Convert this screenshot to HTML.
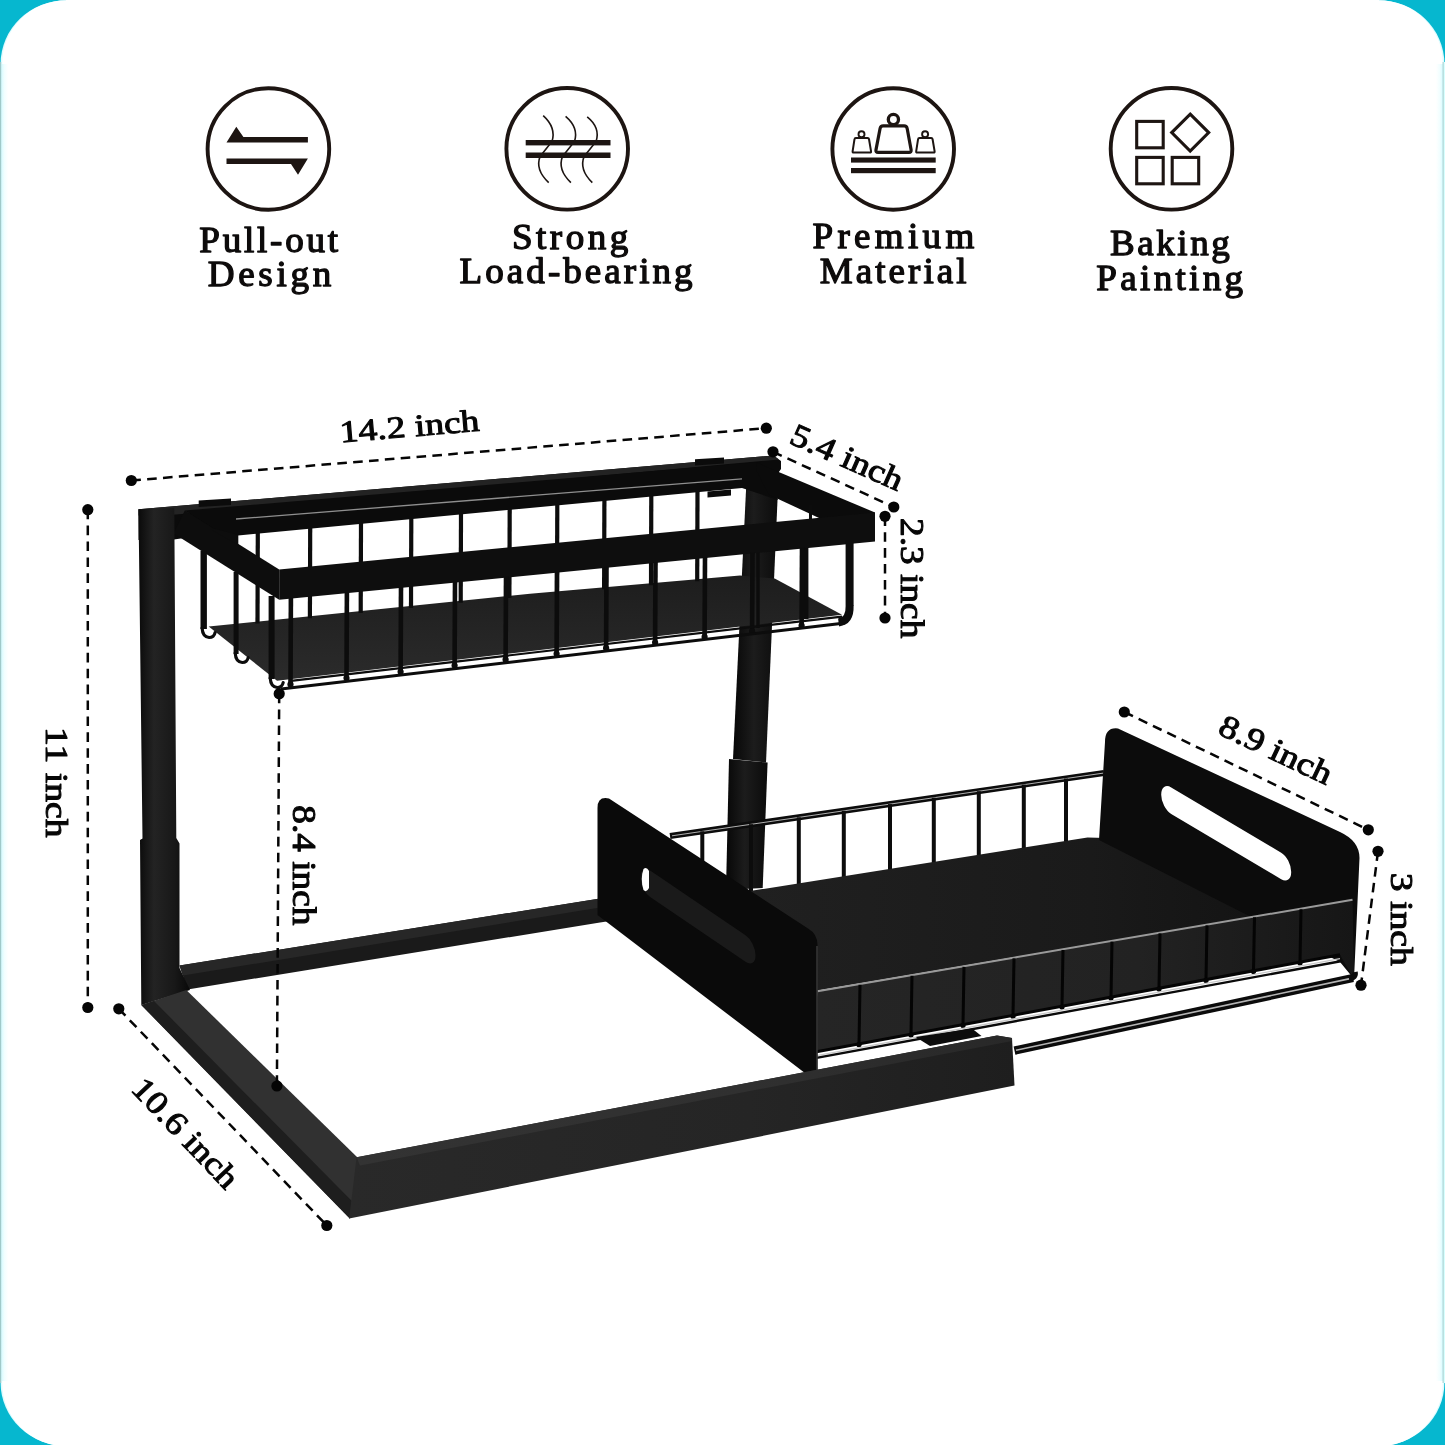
<!DOCTYPE html>
<html><head><meta charset="utf-8"><title>Under sink organizer dimensions</title>
<style>
html,body{margin:0;padding:0;background:#06b7cf;}
body{width:1445px;height:1445px;overflow:hidden;font-family:"Liberation Serif",serif;}
svg{display:block;}
</style></head><body>
<svg width="1445" height="1445" viewBox="0 0 1445 1445" style="will-change:transform">
<rect x="0" y="0" width="1445" height="1445" fill="#06b7cf"/>
<rect x="0.6" y="0.2" width="1443.8" height="1446" rx="66" ry="63.5" fill="#dffcff"/>
<rect x="2.2" y="0.2" width="1440.6" height="1446" rx="64.5" ry="63" fill="#ffffff"/>
<rect x="66" y="0" width="1313" height="3" fill="#ffffff"/>
<defs><linearGradient id="fadeL" x1="0" x2="1" y1="0" y2="0"><stop offset="0" stop-color="#d4fbff"/><stop offset="0.45" stop-color="#f1feff"/><stop offset="1" stop-color="#ffffff"/></linearGradient><linearGradient id="fadeR" x1="1" x2="0" y1="0" y2="0"><stop offset="0" stop-color="#d4fbff"/><stop offset="0.45" stop-color="#f1feff"/><stop offset="1" stop-color="#ffffff"/></linearGradient></defs>
<rect x="1.2" y="64" width="7" height="1317" fill="url(#fadeL)"/>
<rect x="1436" y="64" width="7" height="1317" fill="url(#fadeR)"/>
<rect x="0" y="62" width="1.2" height="1321" fill="#9fc9c9"/>
<rect x="1442.6" y="62" width="1.2" height="1321" fill="#a9d0d0"/>
<rect x="1443.8" y="62" width="1.2" height="1321" fill="#d8ffff"/>
<circle cx="268.4" cy="149.0" r="60.8" fill="none" stroke="#1d1512" stroke-width="3.9"/>
<polygon points="226.5,142.6 236.3,126.7 243.4,137.0 307.9,137.0 307.9,142.6" fill="#1d1512" />
<polygon points="226.5,158.6 307.9,158.6 298.0,174.7 291.0,164.1 226.5,164.1" fill="#1d1512" />
<circle cx="567.2" cy="148.8" r="60.8" fill="none" stroke="#1d1512" stroke-width="3.9"/>
<rect x="525.7" y="140" width="84.8" height="5.4" fill="#1d1512"/>
<rect x="525.7" y="152.5" width="84.8" height="5.5" fill="#1d1512"/>
<path d="M543.2,115.6 Q556.4,127.6 552.0,141.4 L540.1,156.4 Q534.9,169.7 548.7,182.6" fill="none" stroke="#1d1512" stroke-width="1.6"/>
<path d="M565.6,116.3 Q578.9,127.6 574.5,141.4 L562.5,156.4 Q557.3,169.7 570.9,182.6" fill="none" stroke="#1d1512" stroke-width="1.6"/>
<path d="M587.2,116.9 Q600.5,127.6 596.1,141.4 L584.1,156.4 Q578.9,169.7 592.3,182.6" fill="none" stroke="#1d1512" stroke-width="1.6"/>
<circle cx="893.2" cy="149.0" r="60.8" fill="none" stroke="#1d1512" stroke-width="3.9"/>
<rect x="851" y="157.5" width="84.7" height="5.1" fill="#1d1512"/>
<rect x="851" y="168" width="84.7" height="5.2" fill="#1d1512"/>
<circle cx="893.4" cy="119.5" r="5.1" fill="none" stroke="#1d1512" stroke-width="3.3"/>
<path d="M880.07,128.48 Q880.56,125.92 883.16,125.92 L904.09,125.92 Q906.69,125.92 907.17,128.48 L911.10,149.83 Q911.57,152.39 908.97,152.39 L878.07,152.39 Q875.47,152.39 875.96,149.84 Z" fill="#fff" stroke="#1d1512" stroke-width="3.2" stroke-linejoin="round"/>
<circle cx="861.5" cy="134.2" r="3.0" fill="none" stroke="#1d1512" stroke-width="1.9"/>
<path d="M854.46,139.29 Q854.65,138.11 855.85,138.11 L867.62,138.11 Q868.82,138.11 869.02,139.29 L871.06,151.43 Q871.26,152.61 870.06,152.61 L853.63,152.61 Q852.43,152.61 852.61,151.43 Z" fill="#fff" stroke="#1d1512" stroke-width="2.0" stroke-linejoin="round"/>
<circle cx="925.1" cy="134.2" r="3.0" fill="none" stroke="#1d1512" stroke-width="1.9"/>
<path d="M918.03,139.29 Q918.21,138.11 919.41,138.11 L931.19,138.11 Q932.39,138.11 932.59,139.29 L934.62,151.43 Q934.82,152.61 933.62,152.61 L917.20,152.61 Q916.00,152.61 916.18,151.43 Z" fill="#fff" stroke="#1d1512" stroke-width="2.0" stroke-linejoin="round"/>
<circle cx="1171.5" cy="148.8" r="60.8" fill="none" stroke="#1d1512" stroke-width="3.9"/>
<rect x="1136.7" y="121.4" width="26.5" height="26.4" fill="none" stroke="#1d1512" stroke-width="3.1"/>
<rect x="1136.7" y="157.4" width="26.5" height="26.4" fill="none" stroke="#1d1512" stroke-width="3.1"/>
<rect x="1172.2" y="157.4" width="26.5" height="26.4" fill="none" stroke="#1d1512" stroke-width="3.1"/>
<polygon points="1190.2,114.1 1208.7,132.6 1190.2,151.1 1171.7,132.6" fill="none" stroke="#1d1512" stroke-width="3.1"/>
<text transform="translate(268.7,252.1) scale(1.060,1)" x="0" y="0" text-anchor="middle" textLength="131.1" lengthAdjust="spacing" font-family="'Liberation Serif', serif" font-weight="normal" font-size="35" fill="#0d0b0b" stroke="#0d0b0b" stroke-width="1.25" stroke-linejoin="round">Pull-out</text>
<text transform="translate(269.5,286.0) scale(1.060,1)" x="0" y="0" text-anchor="middle" textLength="116.7" lengthAdjust="spacing" font-family="'Liberation Serif', serif" font-weight="normal" font-size="35" fill="#0d0b0b" stroke="#0d0b0b" stroke-width="1.25" stroke-linejoin="round">Design</text>
<text transform="translate(570.1,249.0) scale(1.060,1)" x="0" y="0" text-anchor="middle" textLength="109.8" lengthAdjust="spacing" font-family="'Liberation Serif', serif" font-weight="normal" font-size="35" fill="#0d0b0b" stroke="#0d0b0b" stroke-width="1.25" stroke-linejoin="round">Strong</text>
<text transform="translate(576.1,282.8) scale(1.060,1)" x="0" y="0" text-anchor="middle" textLength="219.8" lengthAdjust="spacing" font-family="'Liberation Serif', serif" font-weight="normal" font-size="35" fill="#0d0b0b" stroke="#0d0b0b" stroke-width="1.25" stroke-linejoin="round">Load-bearing</text>
<text transform="translate(893.4,248.2) scale(1.060,1)" x="0" y="0" text-anchor="middle" textLength="152.6" lengthAdjust="spacing" font-family="'Liberation Serif', serif" font-weight="normal" font-size="35" fill="#0d0b0b" stroke="#0d0b0b" stroke-width="1.25" stroke-linejoin="round">Premium</text>
<text transform="translate(893.2,282.8) scale(1.060,1)" x="0" y="0" text-anchor="middle" textLength="138.5" lengthAdjust="spacing" font-family="'Liberation Serif', serif" font-weight="normal" font-size="35" fill="#0d0b0b" stroke="#0d0b0b" stroke-width="1.25" stroke-linejoin="round">Material</text>
<text transform="translate(1169.9,255.4) scale(1.060,1)" x="0" y="0" text-anchor="middle" textLength="113.2" lengthAdjust="spacing" font-family="'Liberation Serif', serif" font-weight="normal" font-size="35" fill="#0d0b0b" stroke="#0d0b0b" stroke-width="1.25" stroke-linejoin="round">Baking</text>
<text transform="translate(1169.7,289.6) scale(1.060,1)" x="0" y="0" text-anchor="middle" textLength="138.4" lengthAdjust="spacing" font-family="'Liberation Serif', serif" font-weight="normal" font-size="35" fill="#0d0b0b" stroke="#0d0b0b" stroke-width="1.25" stroke-linejoin="round">Painting</text>
<defs>
<linearGradient id="postg" x1="0" x2="1" y1="0" y2="0"><stop offset="0" stop-color="#0a0a0a"/><stop offset="0.3" stop-color="#232323"/><stop offset="0.7" stop-color="#181818"/><stop offset="1" stop-color="#080808"/></linearGradient>
<linearGradient id="post2" x1="0" x2="1" y1="0" y2="0"><stop offset="0" stop-color="#070707"/><stop offset="0.45" stop-color="#1c1c1c"/><stop offset="1" stop-color="#0b0b0b"/></linearGradient>
<linearGradient id="dfloor" x1="0" x2="1" y1="0" y2="0"><stop offset="0" stop-color="#212121"/><stop offset="0.6" stop-color="#1a1a1a"/><stop offset="1" stop-color="#101010"/></linearGradient>
<linearGradient id="bfloor" x1="0" x2="0" y1="0" y2="1"><stop offset="0" stop-color="#1d1d1d"/><stop offset="1" stop-color="#2b2b2b"/></linearGradient>
<linearGradient id="rface" gradientUnits="userSpaceOnUse" x1="815" x2="1355" y1="0" y2="0"><stop offset="0" stop-color="#252525"/><stop offset="0.6" stop-color="#222222"/><stop offset="1" stop-color="#161616"/></linearGradient>
<linearGradient id="fbar" gradientUnits="userSpaceOnUse" x1="350" x2="1015" y1="0" y2="0"><stop offset="0" stop-color="#292929"/><stop offset="0.6" stop-color="#252525"/><stop offset="1" stop-color="#1e1e1e"/></linearGradient>
<linearGradient id="fbart" gradientUnits="userSpaceOnUse" x1="350" x2="1015" y1="0" y2="0"><stop offset="0" stop-color="#333333"/><stop offset="0.6" stop-color="#303030"/><stop offset="1" stop-color="#282828"/></linearGradient>
</defs>
<polygon points="179.5,965.5 600.0,898.5 740.0,877.0 740.0,901.0 600.0,922.5 187.5,989.5" fill="#1a1a1a" />
<polygon points="179.5,965.5 600.0,898.5 740.0,877.0 740.0,886.0 600.0,907.5 183.0,975.5" fill="#272727" />
<polygon points="747.0,470.0 779.0,466.0 766.0,762.5 733.0,759.0" fill="url(#post2)" />
<polygon points="729.0,759.0 767.6,762.5 762.7,888.0 726.0,890.0" fill="url(#post2)" />
<polygon points="138.5,509.2 773.5,455.5 781.0,461.0 781.0,469.0 776.0,476.0 300.0,521.0 174.0,539.5 138.5,540.0" fill="#0b0b0b" />
<polygon points="138.5,509.2 773.5,455.5 779.0,459.5 176.0,514.5 138.5,515.5" fill="#232323" />
<polygon points="198.7,500.5 231.0,498.5 231.0,505.0 198.7,507.0" fill="#0b0b0b" />
<polygon points="695.0,459.3 724.0,457.5 724.0,463.5 695.0,465.5" fill="#0b0b0b" />
<polygon points="184.8,510.5 760.0,462.0 778.0,500.0 742.0,488.0 238.0,535.5 226.0,536.6" fill="#0b0b0b" />
<line x1="236.0" y1="519.0" x2="742.0" y2="478.8" stroke="#8f8f8f" stroke-width="1.30" />
<polygon points="707.5,491.5 731.0,489.5 731.0,495.5 707.5,497.5" fill="#0b0b0b" />
<polygon points="208.7,626.5 530.0,593.8 740.0,575.5 774.7,578.6 842.0,614.7 277.0,680.7" fill="url(#bfloor)" />
<line x1="257.8" y1="532.6" x2="257.5" y2="623.5" stroke="#0c0c0c" stroke-width="4.20" />
<line x1="310.2" y1="527.7" x2="309.9" y2="618.2" stroke="#0c0c0c" stroke-width="4.20" />
<line x1="361.0" y1="522.9" x2="360.7" y2="613.0" stroke="#0c0c0c" stroke-width="4.20" />
<line x1="411.3" y1="518.2" x2="411.0" y2="607.9" stroke="#0c0c0c" stroke-width="4.20" />
<line x1="461.0" y1="513.5" x2="460.7" y2="602.8" stroke="#0c0c0c" stroke-width="4.20" />
<line x1="509.7" y1="508.9" x2="509.4" y2="597.9" stroke="#0c0c0c" stroke-width="4.20" />
<line x1="557.3" y1="504.4" x2="557.0" y2="593.4" stroke="#0c0c0c" stroke-width="4.20" />
<line x1="604.4" y1="500.0" x2="604.1" y2="589.3" stroke="#0c0c0c" stroke-width="4.20" />
<line x1="651.3" y1="495.5" x2="651.0" y2="585.2" stroke="#0c0c0c" stroke-width="4.20" />
<line x1="697.5" y1="491.2" x2="697.2" y2="581.2" stroke="#0c0c0c" stroke-width="4.20" />
<polygon points="756.3,462.5 875.0,512.5 875.0,516.0 819.6,518.2 769.0,494.8 756.0,470.0" fill="#0b0b0b" />
<line x1="810.5" y1="505.0" x2="810.5" y2="520.0" stroke="#0c0c0c" stroke-width="3.00" />
<line x1="806.2" y1="546.0" x2="806.2" y2="619.0" stroke="#0c0c0c" stroke-width="4.40" />
<line x1="758.0" y1="552.0" x2="758.0" y2="628.0" stroke="#0c0c0c" stroke-width="3.40" />
<polygon points="184.8,510.5 279.2,569.4 279.2,599.8 173.6,533.5" fill="#0d0d0d" />
<polygon points="212.0,528.0 238.3,535.0 238.3,545.2 212.0,530.0" fill="#0d0d0d" />
<line x1="203.7" y1="551.0" x2="203.7" y2="629.0" stroke="#0c0c0c" stroke-width="6.40" />
<path d="M202.1,628.0 q0.5,9 7,9.5 q5,0 6,-5" fill="none" stroke="#0c0c0c" stroke-width="3.2" stroke-linecap="round"/>
<line x1="236.1" y1="572.0" x2="236.1" y2="654.0" stroke="#0c0c0c" stroke-width="5.00" />
<path d="M235.2,653.0 q0.5,9 7,9.5 q5,0 6,-5" fill="none" stroke="#0c0c0c" stroke-width="3.2" stroke-linecap="round"/>
<line x1="271.6" y1="596.0" x2="271.6" y2="679.0" stroke="#0c0c0c" stroke-width="6.00" />
<path d="M270.2,678.0 q0.5,9 7,9.5 q5,0 6,-5" fill="none" stroke="#0c0c0c" stroke-width="3.2" stroke-linecap="round"/>
<polygon points="279.2,569.4 875.0,512.5 875.0,541.5 279.2,599.8" fill="#0e0e0e" />
<line x1="290.9" y1="597.7" x2="290.5" y2="684.9" stroke="#0c0c0c" stroke-width="4.60" />
<circle cx="290.5" cy="684.4" r="3.1" fill="#0c0c0c"/>
<line x1="346.9" y1="592.2" x2="346.5" y2="678.5" stroke="#0c0c0c" stroke-width="4.60" />
<circle cx="346.5" cy="678.0" r="3.1" fill="#0c0c0c"/>
<line x1="401.0" y1="586.9" x2="400.6" y2="672.3" stroke="#0c0c0c" stroke-width="4.60" />
<circle cx="400.6" cy="671.8" r="3.1" fill="#0c0c0c"/>
<line x1="455.0" y1="581.6" x2="454.6" y2="666.1" stroke="#0c0c0c" stroke-width="4.60" />
<circle cx="454.6" cy="665.6" r="3.1" fill="#0c0c0c"/>
<line x1="506.0" y1="576.6" x2="505.6" y2="660.2" stroke="#0c0c0c" stroke-width="4.60" />
<circle cx="505.6" cy="659.7" r="3.1" fill="#0c0c0c"/>
<line x1="557.0" y1="571.6" x2="556.6" y2="654.3" stroke="#0c0c0c" stroke-width="4.60" />
<circle cx="556.6" cy="653.8" r="3.1" fill="#0c0c0c"/>
<line x1="606.5" y1="566.8" x2="606.1" y2="648.7" stroke="#0c0c0c" stroke-width="4.60" />
<circle cx="606.1" cy="648.2" r="3.1" fill="#0c0c0c"/>
<line x1="655.5" y1="562.0" x2="655.1" y2="643.0" stroke="#0c0c0c" stroke-width="4.60" />
<circle cx="655.1" cy="642.5" r="3.1" fill="#0c0c0c"/>
<line x1="705.0" y1="557.1" x2="704.6" y2="637.4" stroke="#0c0c0c" stroke-width="4.60" />
<circle cx="704.6" cy="636.9" r="3.1" fill="#0c0c0c"/>
<line x1="752.5" y1="552.5" x2="752.1" y2="631.9" stroke="#0c0c0c" stroke-width="4.60" />
<circle cx="752.1" cy="631.4" r="3.1" fill="#0c0c0c"/>
<line x1="802.0" y1="547.6" x2="801.6" y2="626.2" stroke="#0c0c0c" stroke-width="4.60" />
<circle cx="801.6" cy="625.7" r="3.1" fill="#0c0c0c"/>
<line x1="281.0" y1="689.0" x2="845.0" y2="623.0" stroke="#0c0c0c" stroke-width="3.00" />
<line x1="291.0" y1="680.8" x2="842.0" y2="616.6" stroke="#0c0c0c" stroke-width="2.20" />
<path d="M849.6,540 L849.6,606 q0.5,15 -11,16.5" fill="none" stroke="#0c0c0c" stroke-width="8"/>
<polygon points="138.5,509.2 174.3,508.0 176.3,838.0 179.5,843.5 179.5,968.0 190.0,990.0 141.3,1005.0 140.0,840.0 142.5,838.5" fill="url(#postg)" />
<polygon points="141.3,1005.0 186.3,990.0 357.5,1157.5 350.0,1218.8" fill="#313131" />
<polygon points="141.3,1005.0 154.0,1001.0 351.8,1201.0 350.0,1218.8" fill="#1e1e1e" />
<line x1="670.0" y1="836.0" x2="1104.0" y2="773.0" stroke="#0c0c0c" stroke-width="6.00" />
<line x1="672.0" y1="835.8" x2="1104.0" y2="773.0" stroke="#b0b0b0" stroke-width="1.00" />
<line x1="702.3" y1="831.3" x2="702.3" y2="900.0" stroke="#0c0c0c" stroke-width="4.00" />
<line x1="751.0" y1="824.2" x2="751.0" y2="892.2" stroke="#0c0c0c" stroke-width="4.00" />
<line x1="798.8" y1="817.3" x2="798.8" y2="884.6" stroke="#0c0c0c" stroke-width="4.00" />
<line x1="843.8" y1="810.8" x2="843.8" y2="877.4" stroke="#0c0c0c" stroke-width="4.00" />
<line x1="890.0" y1="804.1" x2="890.0" y2="870.0" stroke="#0c0c0c" stroke-width="4.00" />
<line x1="933.8" y1="797.7" x2="933.8" y2="863.0" stroke="#0c0c0c" stroke-width="4.00" />
<line x1="978.8" y1="791.2" x2="978.8" y2="855.9" stroke="#0c0c0c" stroke-width="4.00" />
<line x1="1023.8" y1="784.6" x2="1023.8" y2="848.7" stroke="#0c0c0c" stroke-width="4.00" />
<line x1="1066.0" y1="778.5" x2="1066.0" y2="841.9" stroke="#0c0c0c" stroke-width="4.00" />
<polygon points="700.0,899.0 1087.5,837.5 1106.0,838.0 1352.0,900.0 817.5,990.5 780.0,960.0" fill="url(#dfloor)" />
<path d="M1105,742 Q1105,727 1118,728.5 L1340,832 Q1359.5,841 1359.5,858 L1354,979 L1340,962 L1099,840 Z" fill="#0c0c0c"/>
<g transform="translate(1161.2,781.5) skewY(30.7)"><rect x="0" y="0" width="130" height="26.5" rx="10" ry="13.2" fill="#ffffff"/></g>
<polygon points="817.5,991.0 1352.5,899.5 1354.0,979.0 1340.0,954.8 812.5,1052.5" fill="url(#rface)" />
<line x1="817.5" y1="991.3" x2="1352.5" y2="899.8" stroke="#9a9a9a" stroke-width="2.00" />
<line x1="860.0" y1="984.7" x2="859.0" y2="1043.7" stroke="#040404" stroke-width="3.00" />
<circle cx="859.0" cy="1044.7" r="2.6" fill="#040404"/>
<line x1="912.0" y1="975.8" x2="911.0" y2="1034.1" stroke="#040404" stroke-width="3.00" />
<circle cx="911.0" cy="1035.1" r="2.6" fill="#040404"/>
<line x1="964.0" y1="966.9" x2="963.0" y2="1024.4" stroke="#040404" stroke-width="3.00" />
<circle cx="963.0" cy="1025.4" r="2.6" fill="#040404"/>
<line x1="1014.0" y1="958.4" x2="1013.0" y2="1015.2" stroke="#040404" stroke-width="3.00" />
<circle cx="1013.0" cy="1016.2" r="2.6" fill="#040404"/>
<line x1="1063.0" y1="950.0" x2="1062.0" y2="1006.1" stroke="#040404" stroke-width="3.00" />
<circle cx="1062.0" cy="1007.1" r="2.6" fill="#040404"/>
<line x1="1112.0" y1="941.6" x2="1111.0" y2="997.0" stroke="#040404" stroke-width="3.00" />
<circle cx="1111.0" cy="998.0" r="2.6" fill="#040404"/>
<line x1="1160.0" y1="933.4" x2="1159.0" y2="988.1" stroke="#040404" stroke-width="3.00" />
<circle cx="1159.0" cy="989.1" r="2.6" fill="#040404"/>
<line x1="1207.0" y1="925.4" x2="1206.0" y2="979.4" stroke="#040404" stroke-width="3.00" />
<circle cx="1206.0" cy="980.4" r="2.6" fill="#040404"/>
<line x1="1254.5" y1="917.3" x2="1253.5" y2="970.6" stroke="#040404" stroke-width="3.00" />
<circle cx="1253.5" cy="971.6" r="2.6" fill="#040404"/>
<line x1="1301.0" y1="909.3" x2="1300.0" y2="962.0" stroke="#040404" stroke-width="3.00" />
<circle cx="1300.0" cy="963.0" r="2.6" fill="#040404"/>
<line x1="812.5" y1="1052.5" x2="1340.0" y2="954.8" stroke="#050505" stroke-width="3.00" />
<line x1="812.5" y1="1056.3" x2="1340.0" y2="958.6" stroke="#c8c8c8" stroke-width="1.30" />
<line x1="812.5" y1="1058.6" x2="1342.0" y2="961.0" stroke="#0a0a0a" stroke-width="2.40" />
<path d="M597.5,808 Q597.5,796 609,798.5 L808,928.5 Q817.5,934 817.5,945 L817.5,1072 L807.5,1075 L597.5,915 Z" fill="#0a0a0a"/>
<line x1="817.0" y1="946.0" x2="817.0" y2="1070.0" stroke="#3a3a3a" stroke-width="1.40" />
<g transform="translate(640.5,864) skewY(34.2)"><rect x="0" y="0" width="115" height="26.5" rx="10" ry="13" fill="#1a1a1a"/></g>
<path d="M643.5,869 q-3.5,10 0,21 q3,3 5.5,-2 l0,-17 q-2.5,-5 -5.5,-2 z" fill="#ffffff"/>
<polygon points="915.6,1037.0 972.0,1028.5 981.5,1036.0 930.0,1046.0" fill="#0c0c0c" />
<polygon points="356.5,1157.2 997.0,1035.5 1012.0,1038.0 1014.5,1085.6 349.2,1218.6" fill="url(#fbar)" />
<polygon points="356.8,1157.3 997.0,1035.5 1012.0,1038.0 1012.0,1041.0 360.0,1165.5" fill="url(#fbart)" />
<line x1="1014.5" y1="1050.6" x2="1353.0" y2="978.0" stroke="#0b0b0b" stroke-width="8.40" />
<line x1="1016.0" y1="1050.2" x2="1350.0" y2="978.6" stroke="#b4b4b4" stroke-width="1.60" />
<path d="M1349,979 q7,-1 6,-7" fill="none" stroke="#0b0b0b" stroke-width="5.5"/>
<line x1="131.3" y1="480.5" x2="766.3" y2="428.2" stroke="#050505" stroke-width="2.50" stroke-dasharray="9.6 6.3"/>
<circle cx="131.3" cy="480.5" r="5.6" fill="#050505"/>
<circle cx="766.3" cy="428.2" r="5.6" fill="#050505"/>
<line x1="773.0" y1="451.8" x2="893.8" y2="507.0" stroke="#050505" stroke-width="2.50" stroke-dasharray="9.6 6.3"/>
<circle cx="773.0" cy="451.8" r="5.6" fill="#050505"/>
<circle cx="893.8" cy="507.0" r="5.6" fill="#050505"/>
<line x1="885.0" y1="516.3" x2="885.0" y2="618.0" stroke="#050505" stroke-width="2.50" stroke-dasharray="9.6 6.3"/>
<circle cx="885.0" cy="516.3" r="5.6" fill="#050505"/>
<circle cx="885.0" cy="618.0" r="5.6" fill="#050505"/>
<line x1="87.8" y1="509.7" x2="87.8" y2="1007.5" stroke="#050505" stroke-width="2.50" stroke-dasharray="9.6 6.3"/>
<circle cx="87.8" cy="509.7" r="5.6" fill="#050505"/>
<circle cx="87.8" cy="1007.5" r="5.6" fill="#050505"/>
<line x1="279.2" y1="693.7" x2="276.9" y2="1086.0" stroke="#050505" stroke-width="2.50" stroke-dasharray="9.6 6.3"/>
<circle cx="279.2" cy="693.7" r="5.6" fill="#050505"/>
<circle cx="276.9" cy="1086.0" r="5.6" fill="#050505"/>
<line x1="118.8" y1="1008.8" x2="326.8" y2="1225.5" stroke="#050505" stroke-width="2.50" stroke-dasharray="9.6 6.3"/>
<circle cx="118.8" cy="1008.8" r="5.6" fill="#050505"/>
<circle cx="326.8" cy="1225.5" r="5.6" fill="#050505"/>
<line x1="1124.3" y1="712.0" x2="1368.3" y2="829.8" stroke="#050505" stroke-width="2.50" stroke-dasharray="9.6 6.3"/>
<circle cx="1124.3" cy="712.0" r="5.6" fill="#050505"/>
<circle cx="1368.3" cy="829.8" r="5.6" fill="#050505"/>
<line x1="1378.0" y1="851.3" x2="1361.0" y2="985.2" stroke="#050505" stroke-width="2.50" stroke-dasharray="9.6 6.3"/>
<circle cx="1378.0" cy="851.3" r="5.6" fill="#050505"/>
<circle cx="1361.0" cy="985.2" r="5.6" fill="#050505"/>
<text transform="translate(340.6,442.5) rotate(-4.80)" x="0" y="0" textLength="140.0" lengthAdjust="spacingAndGlyphs" font-family="'Liberation Serif', serif" font-size="31" fill="#060606" stroke="#060606" stroke-width="1.0" stroke-linejoin="round">14.2 inch</text>
<text transform="translate(788.0,442.6) rotate(24.00)" x="0" y="0" textLength="120.0" lengthAdjust="spacingAndGlyphs" font-family="'Liberation Serif', serif" font-size="32" fill="#060606" stroke="#060606" stroke-width="1.0" stroke-linejoin="round">5.4 inch</text>
<text transform="translate(901.2,518.0) rotate(90.00)" x="0" y="0" textLength="120.4" lengthAdjust="spacingAndGlyphs" font-family="'Liberation Serif', serif" font-size="33" fill="#060606" stroke="#060606" stroke-width="1.0" stroke-linejoin="round">2.3 inch</text>
<text transform="translate(45.7,727.0) rotate(90.00)" x="0" y="0" textLength="110.5" lengthAdjust="spacingAndGlyphs" font-family="'Liberation Serif', serif" font-size="32" fill="#060606" stroke="#060606" stroke-width="1.0" stroke-linejoin="round">11 inch</text>
<text transform="translate(292.7,805.3) rotate(90.00)" x="0" y="0" textLength="120.0" lengthAdjust="spacingAndGlyphs" font-family="'Liberation Serif', serif" font-size="33" fill="#060606" stroke="#060606" stroke-width="1.0" stroke-linejoin="round">8.4 inch</text>
<text transform="translate(129.8,1089.8) rotate(46.45)" x="0" y="0" textLength="139.2" lengthAdjust="spacingAndGlyphs" font-family="'Liberation Serif', serif" font-size="32" fill="#060606" stroke="#060606" stroke-width="1.0" stroke-linejoin="round">10.6 inch</text>
<text transform="translate(1216.5,733.2) rotate(25.40)" x="0" y="0" textLength="121.4" lengthAdjust="spacingAndGlyphs" font-family="'Liberation Serif', serif" font-size="32" fill="#060606" stroke="#060606" stroke-width="1.0" stroke-linejoin="round">8.9 inch</text>
<text transform="translate(1390.6,872.8) rotate(90.00)" x="0" y="0" textLength="93.0" lengthAdjust="spacingAndGlyphs" font-family="'Liberation Serif', serif" font-size="32" fill="#060606" stroke="#060606" stroke-width="1.0" stroke-linejoin="round">3 inch</text>
</svg>
</body></html>
